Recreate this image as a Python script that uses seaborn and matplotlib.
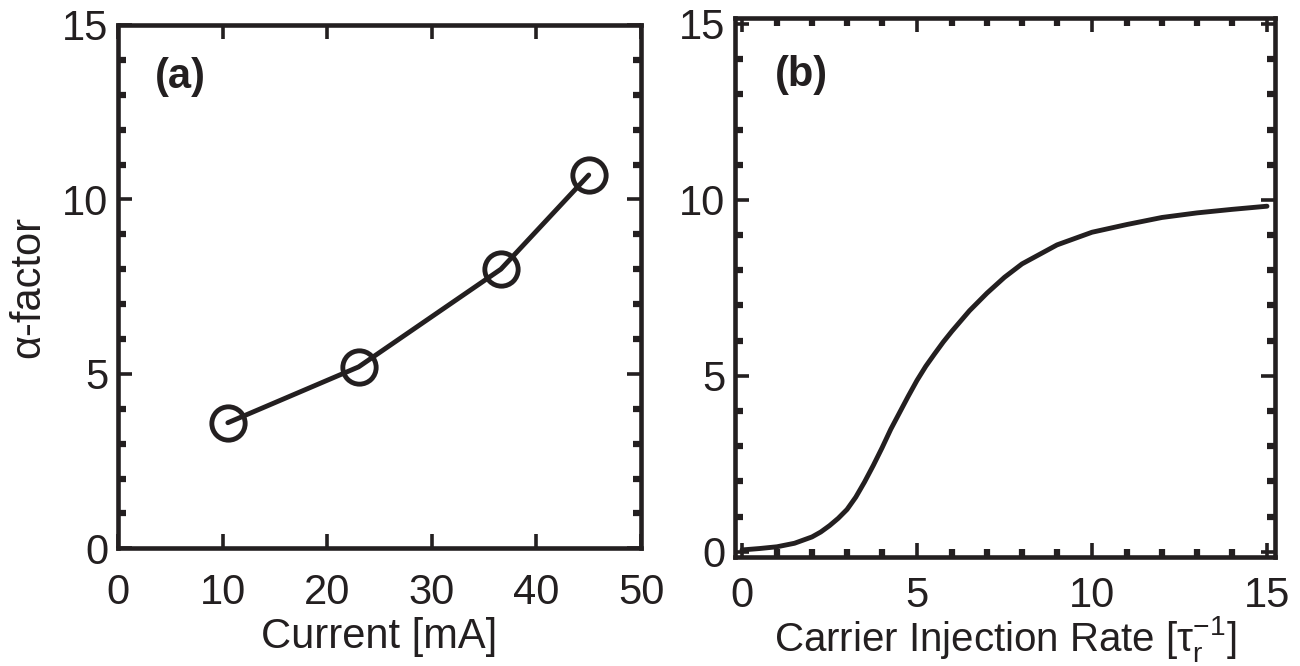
import numpy as np
import pandas as pd
import matplotlib
matplotlib.use("Agg")
import matplotlib.pyplot as plt
from matplotlib.ticker import MultipleLocator, NullLocator
import seaborn as sns

# ---- data (a) ----
current_mA = [10.5, 23.0, 36.6, 45.0]
alpha_a = [3.6, 5.2, 8.0, 10.7]

# ---- data (b) ----
inj_rate = [0, 0.5, 1, 1.5, 2, 2.25, 2.5, 2.75, 3, 3.25, 3.5, 3.75, 4, 4.25,
            4.5, 4.75, 5, 5.25, 5.5, 5.75, 6, 6.5, 7, 7.5,
            8, 9, 10, 11, 12, 13, 14, 15]
alpha_b = [0.05, 0.09, 0.14, 0.24, 0.42, 0.56, 0.74, 0.95, 1.2, 1.55, 1.98, 2.45,
           2.95, 3.48, 3.95, 4.42, 4.87, 5.27, 5.62, 5.96, 6.27, 6.85, 7.35, 7.8,
           8.18, 8.72, 9.08, 9.3, 9.5, 9.63, 9.73, 9.82]

xticks_a = [0, 10, 20, 30, 40, 50]
xticks_b = [0, 5, 10, 15]
yticks = [0, 5, 10, 15]

INK = "#231f20"

sns.set_theme(style="ticks")
plt.rcParams["font.family"] = ["Liberation Sans", "DejaVu Sans"]
plt.rcParams["mathtext.fontset"] = "custom"
plt.rcParams["mathtext.rm"] = "Liberation Sans"
plt.rcParams["mathtext.it"] = "Liberation Sans:italic"
plt.rcParams["mathtext.bf"] = "Liberation Sans:bold"

fig = plt.figure(figsize=(13, 6.66), dpi=100)
axA = fig.add_axes([0.0908, 0.1767, 0.4023, 0.7858])
axB = fig.add_axes([0.5654, 0.1637, 0.4154, 0.8093])

dfa = pd.DataFrame({"Current": current_mA, "alpha": alpha_a})
dfb = pd.DataFrame({"rate": inj_rate, "alpha": alpha_b})

sns.lineplot(data=dfa, x="Current", y="alpha", ax=axA, color=INK, lw=3.5,
             marker="o", markersize=24, markerfacecolor="none",
             markeredgecolor=INK, markeredgewidth=3.5, sort=False)
sns.lineplot(data=dfb, x="rate", y="alpha", ax=axB, color=INK, lw=3.5, sort=False)
for ax in (axA, axB):
    for ln in ax.lines:
        ln.set_solid_joinstyle("round")
        ln.set_solid_capstyle("round")

FS = 30
for ax in (axA, axB):
    for s in ax.spines.values():
        s.set_linewidth(3.3)
        s.set_color(INK)
        s.set_visible(True)
    ax.tick_params(which="both", direction="in", top=True, right=True,
                   bottom=True, left=True, colors=INK, labelsize=FS)
    ax.tick_params(which="major", length=10, width=2.6)
    ax.tick_params(which="minor", length=6, width=4.5)
    ax.set_yticks(yticks)
    ax.yaxis.set_minor_locator(MultipleLocator(1))
    ax.tick_params(axis="y", which="major", pad=7)
    ax.set_facecolor("white")

axA.set_xlim(0, 50)
axA.set_ylim(0, 15)
axA.set_xticks(xticks_a)
axA.xaxis.set_minor_locator(NullLocator())
axA.tick_params(axis="x", which="major", pad=18)

axB.set_xlim(-0.2, 15.23)
axB.set_ylim(-0.15, 15.17)
axB.set_xticks(xticks_b)
axB.xaxis.set_minor_locator(MultipleLocator(1))
axB.tick_params(axis="x", which="major", pad=14)

axA.set_xlabel("Current [mA]", fontsize=FS, color=INK, labelpad=3)
axA.set_ylabel("α-factor", fontsize=FS, color=INK, labelpad=10)
axB.set_xlabel(r"Carrier Injection Rate [$\mathregular{\tau_r^{-1}}$]",
               fontsize=29, color=INK, labelpad=-2)
axB.set_ylabel("")

axA.text(0.071, 0.90, "(a)", transform=axA.transAxes, fontsize=FS,
         fontweight="bold", color=INK, ha="left", va="center")
axB.text(0.074, 0.894, "(b)", transform=axB.transAxes, fontsize=FS,
         fontweight="bold", color=INK, ha="left", va="center")

fig.savefig("out.png", dpi=100, facecolor="white")
